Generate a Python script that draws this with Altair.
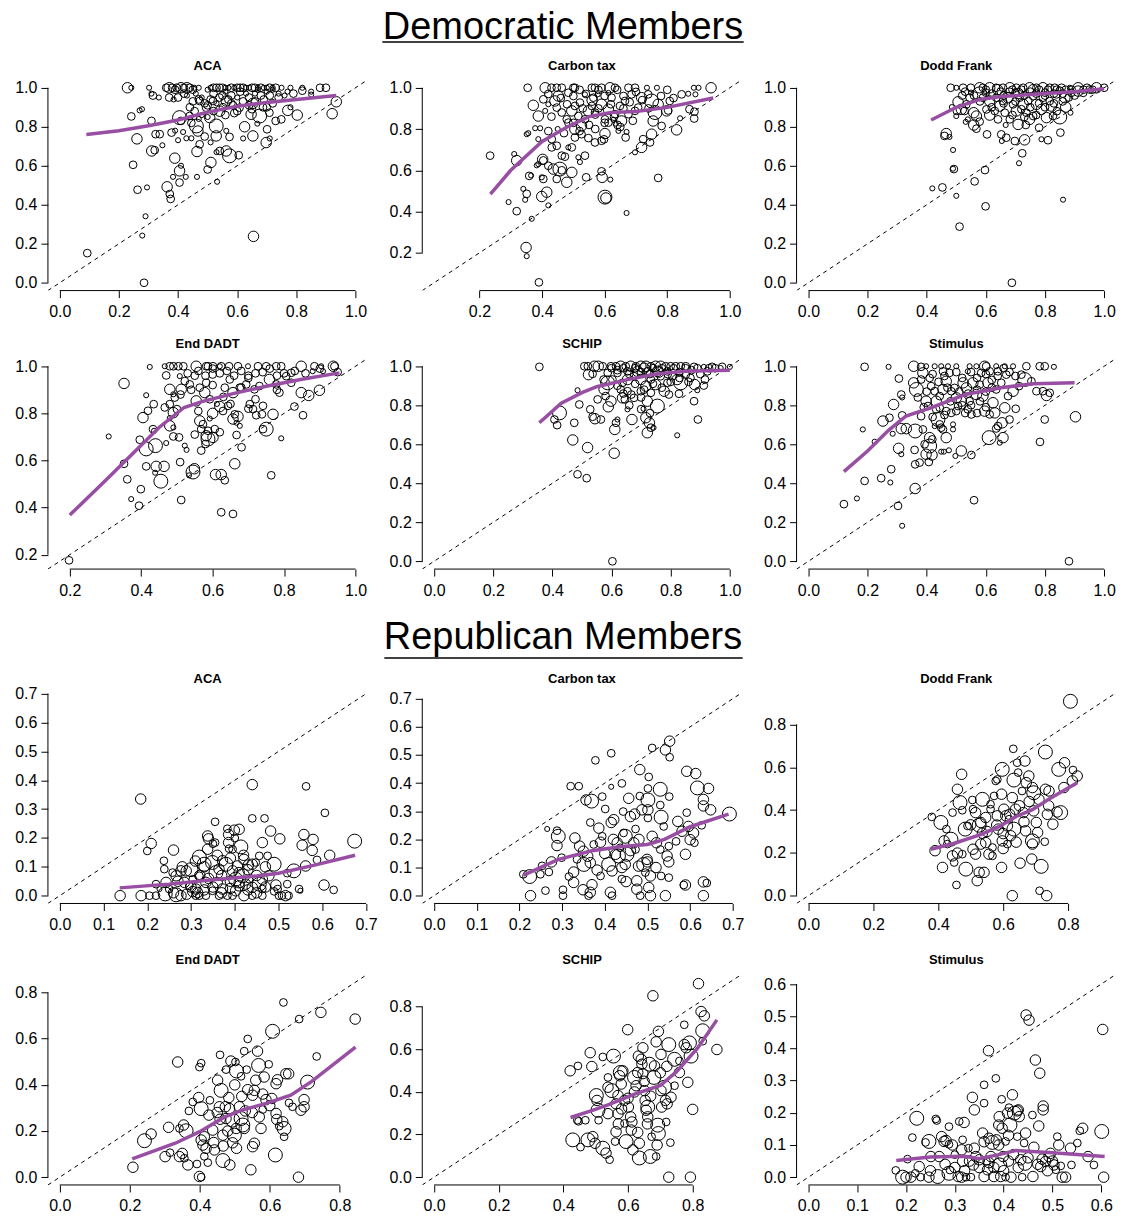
import altair as alt
import pandas as pd

# ---------------- data ----------------
# each point: (x, y, size class 1..4)
dem_aca_pts = [
(0.229,1.0,3),(0.242,1.0,1),(0.302,1.0,1),(0.36,1.0,2),(0.37,1.0,3),(0.38,1.0,2),(0.395,1.0,2),(0.41,1.0,3),(0.42,1.0,2),(0.43,1.0,3),(0.44,1.0,2),(0.455,1.0,1),(0.47,1.0,1),(0.51,1.0,1),(0.53,1.0,2),(0.54,1.0,2),(0.55,1.0,2),(0.57,1.0,1),(0.59,1.0,1),(0.6,1.0,2),(0.61,1.0,2),(0.62,1.0,2),(0.63,1.0,1),(0.65,1.0,2),(0.67,1.0,1),(0.69,1.0,1),(0.7,1.0,1),(0.72,1.0,1),(0.73,1.0,2),(0.75,1.0,1),(0.78,1.0,1),(0.82,1.0,1),(0.88,1.0,2),(0.9,1.0,2),
(0.31,0.97,1),(0.315,0.96,2),(0.335,0.95,1),(0.37,0.95,2),(0.385,0.94,1),(0.4,0.95,2),(0.43,0.96,1),(0.46,0.97,1),(0.47,0.94,2),(0.5,0.99,1),(0.52,0.97,2),(0.54,0.95,2),(0.56,0.98,1),(0.58,0.96,2),(0.61,0.98,2),(0.63,0.97,1),(0.64,0.95,2),(0.66,0.97,1),(0.68,0.96,2),(0.7,0.98,1),(0.74,0.97,1),(0.76,0.96,1),(0.82,0.985,2),(0.85,0.98,1),(0.85,0.965,1),
(0.242,0.853,2),(0.27,0.884,1),(0.278,0.89,1),(0.31,0.83,2),(0.405,0.847,4),(0.41,0.83,2),(0.439,0.855,2),(0.445,0.82,2),(0.456,0.88,2),(0.462,0.804,4),(0.473,0.932,2),(0.495,0.898,2),(0.507,0.847,3),(0.518,0.932,2),(0.529,0.804,4),(0.541,0.88,3),(0.552,0.9,2),(0.563,0.932,3),(0.586,0.91,2),(0.608,0.898,2),(0.625,0.8,3),(0.647,0.864,3),(0.653,0.92,3),(0.668,0.816,1),(0.676,0.855,4),(0.687,0.9,2),(0.709,0.872,2),(0.72,0.92,2),(0.73,0.83,2),(0.749,0.838,2),(0.771,0.884,3),(0.78,0.9,1),(0.803,0.86,3),(0.921,0.867,3),(0.935,0.928,3),(0.59,0.87,2),(0.5,0.85,1),(0.48,0.86,1),
(0.261,0.738,3),(0.324,0.762,2),(0.338,0.762,2),(0.347,0.705,1),(0.378,0.77,2),(0.39,0.78,1),(0.4,0.731,1),(0.417,0.773,1),(0.428,0.741,1),(0.445,0.741,1),(0.467,0.778,3),(0.473,0.71,2),(0.529,0.753,3),(0.563,0.779,1),(0.574,0.748,2),(0.62,0.74,1),(0.653,0.753,3),(0.698,0.719,3),(0.701,0.787,2),(0.71,0.74,1),(0.49,0.75,2),(0.51,0.72,1),
(0.248,0.605,2),(0.263,0.477,2),(0.295,0.489,1),(0.311,0.676,3),(0.321,0.68,2),(0.363,0.492,3),(0.372,0.455,2),(0.375,0.43,2),(0.389,0.639,3),(0.405,0.574,3),(0.41,0.6,1),(0.405,0.514,2),(0.383,0.543,1),(0.426,0.543,1),(0.464,0.543,1),(0.464,0.673,3),(0.5,0.581,2),(0.511,0.617,3),(0.532,0.518,1),(0.541,0.676,2),(0.563,0.676,3),(0.574,0.651,4),(0.605,0.654,2),(0.53,0.67,1),
(0.093,0.152,2),(0.279,0.242,1),(0.29,0.341,1),(0.285,0.0,2),(0.655,0.238,3),
(0.45,0.93,2),(0.48,0.95,1),(0.49,0.92,2),(0.51,0.94,2),(0.53,0.92,1),(0.55,0.96,2),(0.57,0.94,2),(0.58,0.92,2),(0.6,0.95,1),(0.62,0.93,2),(0.64,0.91,2),(0.66,0.93,2),(0.67,0.99,1),(0.69,0.94,2),(0.71,0.96,2),(0.72,0.99,1),(0.74,0.95,2),(0.77,0.98,1),(0.79,0.97,2),(0.52,1.0,2),(0.56,1.0,1),(0.58,1.0,2),(0.64,1.0,1),(0.66,1.0,2),(0.68,1.0,2),(0.71,1.0,2),(0.45,0.99,2),(0.39,0.99,2),(0.42,0.97,2),(0.5,0.91,2),(0.6,0.88,2),(0.65,0.89,2),(0.7,0.9,2),(0.56,0.86,2),(0.52,0.88,2),(0.47,0.84,1),(0.44,0.9,2)]
dem_aca_fit = [(0.09,0.76),(0.2,0.78),(0.3,0.805),(0.4,0.835),(0.5,0.875),(0.6,0.905),(0.7,0.925),(0.8,0.94),(0.935,0.96)]

dem_carbon_pts = [
(0.354,1.0,2),(0.41,1.0,3),(0.43,1.0,2),(0.447,1.0,2),(0.463,1.0,2),(0.5,1.0,2),(0.505,1.0,2),(0.559,1.0,2),(0.569,1.0,2),(0.59,1.0,2),(0.617,1.0,3),(0.633,1.0,2),(0.676,1.0,2),(0.697,1.0,2),(0.735,1.0,1),(0.767,1.0,1),(0.885,1.0,1),(0.9,1.0,1),(0.94,1.0,3),
(0.372,0.915,3),(0.388,0.863,3),(0.351,0.775,1),(0.356,0.78,1),(0.378,0.804,1),(0.394,0.804,1),(0.388,0.751,1),(0.42,0.79,2),(0.431,0.751,2),(0.234,0.671,2),(0.311,0.679,1),(0.319,0.647,3),(0.293,0.446,1),(0.319,0.402,2),(0.34,0.51,1),(0.351,0.486,2),(0.346,0.457,1),(0.359,0.573,2),(0.365,0.575,1),(0.367,0.365,1),(0.349,0.226,3),(0.351,0.184,1),(0.39,0.057,2),
(0.383,0.624,1),(0.388,0.63,1),(0.402,0.653,3),(0.404,0.648,2),(0.399,0.566,1),(0.404,0.558,2),(0.399,0.473,3),(0.415,0.494,3),(0.42,0.43,1),(0.42,0.622,2),(0.436,0.606,3),(0.447,0.558,2),(0.457,0.606,4),(0.463,0.6,2),(0.479,0.542,3),(0.495,0.59,3),(0.431,0.711,2),(0.447,0.719,2),(0.463,0.671,2),(0.473,0.666,2),(0.484,0.711,1),(0.495,0.711,2),(0.516,0.663,1),(0.521,0.64,1),(0.537,0.671,2),(0.541,0.566,2),
(0.505,0.759,2),(0.526,0.775,2),(0.548,0.756,2),(0.569,0.735,2),(0.59,0.743,2),(0.601,0.778,3),(0.598,0.75,2),(0.59,0.595,2),(0.592,0.566,3),(0.601,0.47,4),(0.604,0.466,3),(0.618,0.555,1),(0.67,0.393,1),(0.771,0.563,2),(0.697,0.687,1),(0.718,0.711,3),(0.723,0.751,2),(0.75,0.775,3),(0.745,0.735,2),(0.667,0.759,2),(0.67,0.786,1),(0.635,0.826,1),(0.641,0.82,2),
(0.782,0.815,2),(0.83,0.796,3),(0.841,0.852,1),(0.871,0.896,2),(0.887,0.884,2),(0.886,0.851,2),(0.755,0.839,3),(0.761,0.88,4),(0.771,0.92,3),(0.798,0.888,3),(0.803,0.89,2),(0.808,0.936,2),(0.846,0.968,2),(0.867,0.971,1),(0.89,0.968,1),(0.697,0.888,2),(0.707,0.904,2),(0.718,0.952,3),(0.739,0.968,2),(0.75,0.936,4),
(0.441,0.936,3),(0.452,0.96,3),(0.447,0.904,2),(0.463,0.88,2),(0.479,0.847,2),(0.484,0.831,2),(0.495,0.888,3),(0.505,0.912,2),(0.521,0.928,2),(0.516,0.863,2),(0.526,0.815,3),(0.505,0.799,3),(0.537,0.847,2),(0.548,0.888,3),(0.559,0.912,2),(0.564,0.952,2),(0.569,0.88,2),(0.578,0.968,1),(0.59,0.92,3),(0.601,0.847,2),(0.612,0.896,3),(0.622,0.952,2),(0.633,0.872,2),(0.649,0.912,2),(0.654,0.839,3),(0.665,0.936,2),(0.676,0.872,2),(0.686,0.968,2),(0.612,0.975,1),(0.537,0.968,1),(0.484,0.976,2),(0.42,0.92,1),(0.41,0.888,1),(0.404,0.944,2),(0.612,0.831,2),(0.628,0.845,1),(0.644,0.791,1),
(0.5,0.96,2),(0.52,0.99,2),(0.54,0.97,2),(0.56,0.94,3),(0.58,0.99,2),(0.6,0.96,2),(0.62,0.92,2),(0.64,0.99,2),(0.66,0.96,2),(0.68,0.93,2),(0.7,0.98,2),(0.72,0.94,2),(0.46,0.95,2),(0.48,0.92,2),(0.53,0.9,2),(0.57,0.87,2),(0.6,0.83,2),(0.63,0.86,2),(0.66,0.9,2),(0.69,0.84,2),(0.55,0.82,2),(0.52,0.79,2),(0.5,0.83,2),(0.47,0.78,2),(0.45,0.8,1),(0.43,0.86,2),(0.57,0.8,2),(0.65,0.81,2),(0.78,0.96,2),(0.8,0.99,2),(0.82,0.95,2),(0.74,0.9,2),(0.58,0.9,2),(0.42,0.97,2)]
dem_carbon_fit = [(0.235,0.485),(0.3,0.6),(0.4,0.74),(0.48,0.81),(0.55,0.86),(0.62,0.88),(0.7,0.885),(0.8,0.905),(0.947,0.95)]

dem_dodd_pts = [
(0.481,1.0,2),(0.5,1.0,1),(0.523,1.0,2),(0.549,1.0,2),(0.579,1.0,3),(0.59,1.0,2),(0.613,1.0,3),(0.635,1.0,2),(0.658,1.0,2),(0.681,1.0,3),(0.703,1.0,2),(0.726,1.0,2),(0.748,1.0,3),(0.771,1.0,2),(0.793,1.0,3),(0.816,1.0,2),(0.833,1.0,2),(0.856,1.0,2),(0.884,1.0,1),(0.912,1.0,3),(0.942,1.0,2),(0.974,1.0,3),(1.0,1.0,2),
(0.579,0.969,4),(0.506,0.928,3),(0.517,0.889,3),(0.528,0.881,2),(0.502,0.881,2),(0.5,0.855,1),(0.539,0.838,1),(0.559,0.872,3),(0.568,0.855,3),(0.579,0.826,2),(0.559,0.809,3),(0.568,0.79,2),(0.46,0.753,2),(0.477,0.748,1),(0.466,0.765,3),(0.489,0.681,1),(0.604,0.761,2),(0.613,0.86,3),
(0.652,0.761,2),(0.654,0.727,1),(0.669,0.744,2),(0.667,0.809,1),(0.698,0.727,2),(0.709,0.812,3),(0.731,0.733,3),(0.723,0.664,2),(0.712,0.613,1),(0.735,0.809,2),(0.748,0.838,3),(0.76,0.855,2),(0.78,0.795,2),(0.788,0.736,1),(0.81,0.731,2),(0.805,0.847,3),(0.827,0.855,2),(0.85,0.85,4),(0.87,0.901,3),(0.852,0.77,2),(0.886,0.872,1),
(0.419,0.484,1),(0.453,0.489,2),(0.5,0.446,1),(0.492,0.583,2),(0.489,0.585,1),(0.562,0.52,2),(0.597,0.578,2),(0.511,0.288,2),(0.599,0.392,2),(0.688,0.0,2),(0.861,0.426,1),(0.532,0.825,1),(0.485,0.901,1),
(0.59,0.949,2),(0.613,0.932,3),(0.635,0.949,2),(0.647,0.906,3),(0.658,0.932,2),(0.675,0.949,3),(0.692,0.915,2),(0.703,0.881,3),(0.714,0.949,2),(0.726,0.915,3),(0.743,0.932,2),(0.76,0.957,2),(0.771,0.915,3),(0.788,0.889,3),(0.793,0.949,2),(0.816,0.932,2),(0.822,0.906,3),(0.839,0.966,2),(0.867,0.949,3),(0.889,0.974,2),(0.912,0.983,3),(0.929,0.974,2),(0.951,0.991,2),(0.545,0.949,2),(0.534,0.915,2),(0.602,0.889,2),(0.63,0.881,2),(0.664,0.872,2),(0.737,0.872,2),(0.681,0.838,2),(0.641,0.838,2),
(0.6,0.975,2),(0.65,0.98,2),(0.7,0.975,2),(0.75,0.98,2),(0.8,0.975,2),(0.85,0.985,2),(0.55,0.975,1),(0.52,0.96,2),
(0.6,0.99,2),(0.62,0.97,2),(0.64,0.99,3),(0.66,0.96,2),(0.68,0.98,2),(0.69,0.99,2),(0.71,0.97,3),(0.72,0.99,2),(0.73,0.96,2),(0.76,0.99,3),(0.77,0.97,2),(0.78,0.99,2),(0.8,0.96,2),(0.81,0.99,2),(0.83,0.97,2),(0.84,0.99,2),(0.86,0.97,2),(0.87,0.99,2),(0.89,0.99,2),(0.9,0.96,2),(0.93,0.99,2),(0.96,0.99,2),(0.62,0.9,2),(0.66,0.92,2),(0.7,0.93,2),(0.72,0.89,2),(0.75,0.9,2),(0.78,0.92,2),(0.8,0.9,2),(0.83,0.92,2),(0.86,0.93,2),(0.88,0.95,2),(0.69,0.86,2),(0.73,0.85,2),(0.77,0.86,2),(0.84,0.88,2),(0.56,0.96,2),(0.58,0.93,2),(0.53,0.98,2)]
dem_dodd_fit = [(0.415,0.835),(0.5,0.9),(0.58,0.94),(0.65,0.955),(0.8,0.97),(0.9,0.98),(1.0,0.995)]

dem_dadt_pts = [
(0.424,0.997,1),(0.466,1.0,1),(0.48,1.0,2),(0.49,1.0,2),(0.504,1.0,2),(0.518,1.0,2),(0.554,1.0,3),(0.582,1.0,2),(0.587,1.0,2),(0.601,1.0,2),(0.62,1.0,1),(0.624,1.0,2),(0.646,1.0,2),(0.671,1.0,2),(0.699,1.0,1),(0.727,1.0,2),(0.75,1.0,2),(0.778,1.0,2),(0.792,1.0,2),(0.848,1.0,3),(0.885,1.0,2),(0.904,1.0,1),(0.938,1.0,3),(0.941,1.0,2),
(0.352,0.927,3),(0.309,0.702,1),(0.414,0.877,1),(0.419,0.811,2),(0.435,0.839,2),(0.405,0.782,3),(0.396,0.688,2),(0.433,0.733,2),(0.436,0.726,1),(0.414,0.649,4),(0.44,0.663,4),(0.352,0.586,2),(0.361,0.52,2),(0.372,0.436,1),(0.399,0.478,2),(0.394,0.408,2),(0.414,0.575,2),(0.442,0.575,3),(0.464,0.575,3),(0.439,0.548,1),(0.455,0.512,4),(0.512,0.432,2),(0.534,0.537,1),(0.545,0.551,4),(0.549,0.565,3),(0.568,0.642,2),
(0.48,0.747,3),(0.49,0.74,1),(0.509,0.593,2),(0.522,0.663,1),(0.527,0.645,1),(0.506,0.698,2),(0.49,0.702,2),(0.47,0.674,1),(0.466,0.825,2),(0.48,0.839,2),(0.49,0.803,3),(0.5,0.818,2),(0.48,0.78,1),(0.48,0.902,3),(0.49,0.881,1),(0.494,0.867,2),(0.512,0.902,3),(0.522,0.937,2),(0.47,0.961,2),(0.508,0.958,1),
(0.536,0.923,2),(0.564,0.909,2),(0.578,0.888,3),(0.554,0.853,3),(0.592,0.86,2),(0.582,0.93,2),(0.564,0.768,3),(0.573,0.754,2),(0.568,0.733,2),(0.582,0.705,3),(0.587,0.691,4),(0.601,0.698,3),(0.606,0.733,2),(0.587,0.726,2),(0.592,0.778,1),(0.608,0.54,3),(0.624,0.54,3),(0.634,0.516,2),(0.624,0.38,2),(0.657,0.373,2),(0.662,0.586,3),(0.667,0.708,2),(0.681,0.656,2),
(0.62,0.829,3),(0.629,0.81,2),(0.612,0.84,1),(0.643,0.832,2),(0.657,0.776,3),(0.662,0.796,2),(0.671,0.787,3),(0.676,0.747,1),(0.667,0.76,1),(0.634,0.909,2),(0.648,0.944,2),(0.657,0.888,3),(0.676,0.909,2),(0.694,0.923,2),(0.704,0.839,2),(0.713,0.818,2),(0.722,0.792,2),(0.738,0.796,2),(0.741,0.832,2),(0.75,0.733,4),(0.741,0.733,2),(0.764,0.537,2),(0.769,0.796,3),(0.792,0.694,1),
(0.759,0.944,3),(0.778,0.923,2),(0.787,0.888,2),(0.806,0.958,2),(0.82,0.972,2),(0.829,0.829,2),(0.853,0.792,2),(0.848,0.888,3),(0.869,0.876,3),(0.899,0.898,3),(0.88,0.979,1),(0.909,0.979,1),(0.717,0.902,2),(0.731,0.916,2),(0.198,0.176,2),
(0.55,0.96,2),(0.6,0.965,2),(0.7,0.96,2),(0.74,0.975,2),(0.8,0.97,2),(0.95,0.975,2),
(0.53,0.97,2),(0.56,0.98,2),(0.58,0.96,2),(0.6,0.99,2),(0.62,0.97,2),(0.64,0.98,2),(0.66,0.96,2),(0.68,0.98,2),(0.7,0.95,2),(0.72,0.97,2),(0.76,0.99,2),(0.78,0.96,2),(0.83,0.98,2),(0.86,0.97,2),(0.9,0.99,2),(0.54,0.9,2),(0.6,0.92,2),(0.63,0.87,2),(0.68,0.91,2),(0.72,0.86,2),(0.78,0.9,2),(0.82,0.93,2),(0.56,0.81,2),(0.6,0.8,3),(0.65,0.84,2),(0.7,0.82,2),(0.58,0.67,2),(0.62,0.72,2),(0.55,0.71,2),(0.51,0.88,2)]
dem_dadt_fit = [(0.2,0.368),(0.3,0.515),(0.4,0.665),(0.45,0.74),(0.52,0.825),(0.57,0.85),(0.66,0.885),(0.75,0.915),(0.85,0.945),(0.955,0.972)]

dem_schip_pts = [
(0.356,0.997,2),(0.508,1.0,2),(0.52,1.0,2),(0.542,1.0,3),(0.555,1.0,3),(0.57,1.0,2),(0.598,1.0,2),(0.615,1.0,2),(0.631,1.0,3),(0.648,1.0,2),(0.665,1.0,3),(0.682,1.0,2),(0.699,1.0,3),(0.716,1.0,3),(0.733,1.0,2),(0.749,1.0,3),(0.766,1.0,3),(0.783,1.0,2),(0.8,1.0,2),(0.817,1.0,2),(0.834,1.0,2),(0.851,1.0,2),(0.879,0.997,2),(0.912,0.997,1),(0.94,0.997,2),(0.974,0.997,2),(1.0,0.997,1),
(0.522,0.957,3),(0.536,0.961,2),(0.573,0.932,2),(0.587,0.915,4),(0.575,0.881,3),(0.485,0.877,1),(0.491,0.804,2),(0.424,0.761,4),(0.407,0.727,2),(0.416,0.698,2),(0.474,0.71,2),(0.469,0.622,3),(0.519,0.583,3),(0.528,0.779,2),(0.536,0.741,2),(0.544,0.731,3),(0.564,0.727,2),(0.553,0.83,2),(0.58,0.847,2),(0.598,0.821,3),(0.589,0.792,3),
(0.485,0.446,2),(0.516,0.426,2),(0.609,0.554,3),(0.615,0.71,2),(0.611,0.676,3),(0.62,0.727,1),(0.603,0.0,2),(0.654,0.779,1),(0.637,0.838,3),(0.645,0.83,2),(0.631,0.881,2),(0.669,0.727,3),(0.667,0.855,2),(0.721,0.821,3),(0.716,0.736,3),(0.728,0.71,3),(0.733,0.685,2),(0.721,0.659,3),(0.708,0.782,1),(0.755,0.796,4),(0.742,0.685,1),(0.822,0.646,1),
(0.892,0.727,2),(0.879,0.821,2),(0.881,0.906,3),(0.89,0.877,1),(0.912,0.901,2),(0.916,0.932,2),(0.828,0.859,2),(0.794,0.855,2),
(0.62,0.966,2),(0.654,0.932,3),(0.676,0.949,2),(0.699,0.932,3),(0.716,0.898,3),(0.733,0.932,2),(0.749,0.906,3),(0.766,0.949,2),(0.778,0.872,3),(0.789,0.915,2),(0.806,0.949,2),(0.822,0.932,3),(0.834,0.915,4),(0.851,0.957,2),(0.867,0.94,2),(0.699,0.872,2),(0.676,0.838,2),(0.733,0.864,2),(0.654,0.872,2),(0.637,0.915,2),(0.603,0.932,2),(0.587,0.966,2),(0.789,0.974,2),(0.755,0.974,3),(0.721,0.974,2),(0.688,0.974,3),(0.654,0.974,2),(0.924,0.974,2),(0.969,0.991,1),
(0.6,0.99,2),(0.62,0.98,2),(0.64,0.99,2),(0.66,0.96,2),(0.68,0.99,2),(0.7,0.97,2),(0.71,0.99,3),(0.73,0.96,2),(0.74,0.99,2),(0.76,0.97,3),(0.77,0.99,2),(0.79,0.96,2),(0.81,0.99,2),(0.83,0.97,2),(0.85,0.99,2),(0.87,0.98,2),(0.89,0.99,2),(0.9,0.96,2),(0.93,0.99,2),(0.95,0.99,2),(0.68,0.91,2),(0.71,0.88,2),(0.74,0.91,2),(0.77,0.89,2),(0.8,0.92,2),(0.83,0.94,2),(0.86,0.92,2),(0.7,0.84,2),(0.64,0.86,2),(0.62,0.9,2),(0.66,0.8,2),(0.7,0.78,2),(0.73,0.76,2)]
dem_schip_fit = [(0.356,0.71),(0.43,0.81),(0.5,0.865),(0.55,0.895),(0.65,0.93),(0.75,0.96),(0.85,0.975),(1.0,0.98)]

dem_stim_pts = [
(0.19,0.997,2),(0.271,0.997,1),(0.356,1.0,3),(0.381,0.997,2),(0.398,1.0,1),(0.427,1.0,1),(0.449,1.0,1),(0.472,1.0,1),(0.5,1.0,1),(0.545,1.0,1),(0.568,1.0,1),(0.596,1.0,3),(0.601,1.0,2),(0.635,1.0,1),(0.664,1.0,1),(0.692,1.0,1),(0.737,1.0,2),(0.782,1.0,2),(0.799,1.0,2),(0.83,0.997,1),
(0.306,0.937,2),(0.12,0.293,2),(0.164,0.322,1),(0.19,0.412,2),(0.246,0.426,2),(0.277,0.404,1),(0.28,0.472,2),(0.184,0.676,1),(0.224,0.613,1),(0.252,0.719,3),(0.274,0.736,2),(0.285,0.654,1),(0.288,0.804,3),(0.314,0.855,2),(0.317,0.84,1),(0.317,0.748,2),(0.314,0.68,3),(0.331,0.68,3),(0.305,0.579,3),(0.314,0.549,1),(0.303,0.284,2),(0.317,0.182,1),
(0.361,0.373,3),(0.361,0.497,2),(0.359,0.571,2),(0.361,0.668,4),(0.376,0.506,2),(0.387,0.676,2),(0.381,0.744,2),(0.393,0.6,2),(0.398,0.549,3),(0.41,0.591,4),(0.418,0.545,3),(0.407,0.509,2),(0.41,0.634,3),(0.419,0.625,2),(0.427,0.693,1),(0.438,0.727,4),(0.444,0.702,2),(0.449,0.685,2),(0.455,0.676,2),(0.466,0.634,3),(0.449,0.562,1),(0.458,0.562,1),(0.475,0.569,1),(0.497,0.54,1),(0.517,0.566,3),(0.489,0.702,1),(0.489,0.676,1),(0.551,0.545,2),(0.56,0.313,2),
(0.611,0.634,4),(0.658,0.634,3),(0.647,0.608,1),(0.635,0.681,2),(0.641,0.693,2),(0.655,0.71,3),(0.68,0.727,2),(0.783,0.612,2),(0.799,0.727,2),(0.903,0.741,3),(0.881,0.0,2),(0.701,0.782,2),(0.664,0.787,3),(0.805,0.85,3),(0.816,0.864,2),(0.793,0.872,2),(0.771,0.872,2),(0.754,0.923,2),(0.731,0.932,4),(0.712,0.898,2),(0.72,0.957,2),
(0.356,0.915,3),(0.365,0.881,4),(0.381,0.932,2),(0.387,0.966,3),(0.41,0.94,2),(0.415,0.898,2),(0.427,0.872,2),(0.432,0.821,3),(0.398,0.821,3),(0.404,0.796,2),(0.444,0.847,2),(0.455,0.881,3),(0.466,0.923,3),(0.477,0.966,2),(0.483,0.872,2),(0.494,0.889,2),(0.5,0.838,3),(0.506,0.796,2),(0.517,0.821,3),(0.523,0.915,3),(0.534,0.889,3),(0.539,0.779,2),(0.551,0.753,2),(0.545,0.821,2),(0.556,0.915,3),(0.568,0.855,3),(0.579,0.906,2),(0.584,0.966,2),(0.59,0.847,3),(0.607,0.915,3),(0.596,0.77,3),(0.624,0.813,3),(0.613,0.753,2),(0.63,0.761,3),(0.635,0.881,2),(0.652,0.915,2),(0.669,0.957,2),(0.675,0.847,2),(0.692,0.872,3),(0.641,0.974,2),(0.613,0.974,2),(0.539,0.974,1),(0.455,0.974,2),(0.444,0.787,2),(0.466,0.77,2),(0.483,0.761,2),(0.432,0.779,2),
(0.42,0.96,2),(0.44,0.92,2),(0.46,0.95,2),(0.5,0.97,2),(0.52,0.94,2),(0.55,0.97,2),(0.57,0.94,2),(0.6,0.96,2),(0.62,0.93,2),(0.64,0.95,2),(0.66,0.99,2),(0.68,0.97,2),(0.7,0.95,2),(0.47,0.89,2),(0.51,0.87,2),(0.54,0.86,2),(0.57,0.88,2),(0.6,0.87,2),(0.62,0.89,2),(0.48,0.82,2),(0.52,0.8,2),(0.55,0.8,2),(0.58,0.82,2),(0.46,0.75,2),(0.5,0.77,2),(0.53,0.76,2),(0.42,0.74,2),(0.4,0.87,2),(0.37,0.84,2),(0.39,0.79,2),(0.57,0.76,2),(0.6,0.79,2)]
dem_stim_fit = [(0.12,0.46),(0.2,0.565),(0.27,0.67),(0.33,0.745),(0.42,0.79),(0.53,0.855),(0.65,0.89),(0.76,0.91),(0.9,0.915)]

rep_aca_pts = [
(0.138,0.0,3),(0.186,0.0,3),(0.205,0.0,2),(0.22,0.0,2),(0.241,0.006,4),(0.266,0.003,4),(0.277,0.0,3),(0.311,0.0,2),(0.319,0.0,2),(0.334,0.0,2),(0.364,0.0,2),(0.383,0.0,2),(0.395,0.0,2),(0.421,0.0,3),(0.44,0.0,2),(0.463,0.0,2),(0.501,0.0,2),(0.508,0.0,2),(0.516,0.0,3),(0.523,0.0,2),
(0.185,0.335,3),(0.209,0.181,3),(0.2,0.155,2),(0.238,0.121,2),(0.239,0.092,2),(0.22,0.04,2),(0.228,0.023,1),(0.26,0.158,3),(0.258,0.08,2),(0.266,0.069,3),(0.277,0.086,3),(0.289,0.086,3),(0.3,0.09,4),(0.285,0.046,3),(0.296,0.034,2),(0.304,0.014,3),(0.311,0.023,3),(0.315,0.011,3),(0.319,0.134,4),(0.33,0.109,4),
(0.338,0.207,3),(0.34,0.197,3),(0.338,0.161,3),(0.355,0.256,2),(0.355,0.184,2),(0.349,0.115,4),(0.357,0.08,4),(0.364,0.092,3),(0.36,0.046,3),(0.372,0.023,3),(0.383,0.232,2),(0.399,0.227,3),(0.386,0.212,3),(0.386,0.184,3),(0.387,0.163,2),(0.395,0.161,2),(0.372,0.121,3),(0.38,0.109,4),(0.395,0.086,3),(0.406,0.103,3),(0.414,0.169,4),
(0.402,0.057,4),(0.418,0.069,4),(0.425,0.04,3),(0.433,0.057,2),(0.421,0.126,3),(0.431,0.106,3),(0.44,0.109,3),(0.448,0.115,2),(0.44,0.385,3),(0.44,0.268,2),(0.468,0.268,2),(0.456,0.138,2),(0.463,0.184,3),(0.475,0.138,2),(0.482,0.224,3),(0.503,0.197,3),(0.49,0.109,4),(0.494,0.037,3),(0.498,0.023,2),(0.456,0.04,4),(0.463,0.023,2),
(0.52,0.078,2),(0.535,0.086,4),(0.52,0.04,2),(0.547,0.023,2),(0.55,0.017,1),(0.554,0.175,3),(0.558,0.212,3),(0.562,0.103,3),(0.563,0.379,2),(0.577,0.157,3),(0.579,0.195,3),(0.588,0.124,2),(0.606,0.287,2),(0.604,0.037,3),(0.617,0.14,3),(0.626,0.02,2),(0.674,0.189,4),
(0.243,0.046,3),(0.25,0.023,2),(0.304,0.057,2),(0.319,0.069,2),(0.334,0.046,3),(0.349,0.017,2),(0.402,0.017,3),(0.41,0.034,3),(0.44,0.029,3),(0.463,0.057,3),(0.478,0.069,3),
(0.26,0.01,3),(0.29,0.005,3),(0.3,0.03,3),(0.33,0.02,3),(0.35,0.03,3),(0.37,0.01,3),(0.39,0.025,3),(0.41,0.045,3),(0.43,0.02,3),(0.45,0.01,3),(0.47,0.03,3),(0.49,0.015,2),(0.27,0.05,3),(0.32,0.07,3),(0.34,0.06,3),(0.37,0.07,3),(0.39,0.05,3),(0.41,0.08,3),(0.43,0.09,3),(0.45,0.07,3),(0.28,0.1,3),(0.31,0.12,3),(0.36,0.14,3),(0.39,0.13,3),(0.42,0.14,3),(0.35,0.18,2),(0.4,0.2,2),(0.41,0.23,3),(0.33,0.1,3),(0.47,0.1,3)]
rep_aca_fit = [(0.137,0.027),(0.25,0.04),(0.35,0.055),(0.45,0.068),(0.5,0.078),(0.58,0.105),(0.675,0.14)]

rep_carbon_pts = [
(0.209,0.076,2),(0.224,0.068,4),(0.226,0.0,3),(0.253,0.106,2),(0.249,0.076,2),(0.261,0.018,2),(0.269,0.084,2),(0.265,0.237,1),(0.275,0.12,3),(0.288,0.231,2),(0.291,0.211,4),(0.288,0.178,3),(0.299,0.135,2),(0.302,0.021,2),(0.302,0.0,2),
(0.32,0.389,2),(0.339,0.389,2),(0.316,0.068,2),(0.327,0.084,3),(0.327,0.047,3),(0.33,0.205,3),(0.341,0.176,3),(0.35,0.158,3),(0.335,0.129,2),(0.349,0.021,3),(0.362,0.0,2),(0.366,0.012,3),(0.37,0.039,3),(0.356,0.34,3),(0.369,0.336,4),(0.378,0.481,2),(0.351,0.111,4),(0.366,0.117,3),(0.374,0.182,2),(0.366,0.26,2),(0.382,0.091,3),(0.39,0.07,2),(0.386,0.24,3),(0.394,0.211,2),(0.394,0.352,2),(0.401,0.308,2),
(0.415,0.506,2),(0.415,0.387,1),(0.409,0.111,4),(0.417,0.088,3),(0.413,0.012,3),(0.417,0.0,2),(0.415,0.26,3),(0.421,0.27,3),(0.429,0.188,3),(0.425,0.147,3),(0.432,0.141,4),(0.436,0.17,2),(0.44,0.399,2),(0.443,0.299,2),(0.448,0.211,4),(0.444,0.223,2),(0.452,0.147,4),(0.448,0.111,3),(0.44,0.059,2),(0.46,0.281,3),(0.456,0.346,3),
(0.472,0.237,2),(0.468,0.188,3),(0.472,0.164,2),(0.479,0.105,3),(0.475,0.053,3),(0.475,0.023,3),(0.483,0.0,2),(0.482,0.448,3),(0.482,0.354,2),(0.487,0.305,3),(0.491,0.111,4),(0.499,0.129,3),(0.495,0.082,2),(0.501,0.34,4),(0.501,0.305,3),(0.501,0.276,2),(0.501,0.381,2),(0.503,0.422,2),(0.511,0.525,2),(0.507,0.0,3),(0.503,0.029,3),(0.507,0.07,3),
(0.511,0.211,3),(0.521,0.188,3),(0.53,0.164,2),(0.53,0.378,4),(0.53,0.322,2),(0.532,0.279,4),(0.538,0.246,2),(0.542,0.518,3),(0.552,0.549,3),(0.552,0.492,2),(0.551,0.352,2),(0.546,0.141,3),(0.55,0.176,2),(0.532,0.07,2),(0.542,0.0,3),(0.55,0.064,2),
(0.567,0.193,2),(0.571,0.264,3),(0.589,0.147,3),(0.581,0.229,3),(0.596,0.246,3),(0.6,0.199,3),(0.592,0.295,2),(0.592,0.442,3),(0.613,0.434,3),(0.608,0.223,3),(0.61,0.188,2),(0.585,0.038,2),(0.589,0.038,3),(0.617,0.383,4),(0.643,0.381,3),(0.631,0.342,3),(0.631,0.319,3),(0.648,0.305,3),(0.627,0.25,2),(0.631,0.049,3),(0.639,0.045,2),(0.631,0.0,3),(0.692,0.29,4),
(0.4,0.15,3),(0.42,0.2,3),(0.44,0.1,3),(0.46,0.16,3),(0.48,0.2,3),(0.5,0.12,3),(0.52,0.1,3),(0.39,0.19,3),(0.36,0.14,3),(0.45,0.05,3),(0.55,0.12,3),(0.47,0.29,3)]
rep_carbon_fit = [(0.21,0.073),(0.29,0.128),(0.37,0.16),(0.44,0.175),(0.5,0.182),(0.54,0.2),(0.6,0.245),(0.69,0.29)]

rep_dodd_pts = [
(0.38,0.368,2),(0.39,0.21,3),(0.408,0.342,4),(0.413,0.132,3),(0.418,0.256,3),(0.425,0.311,2),(0.439,0.264,4),(0.444,0.186,3),(0.449,0.155,2),(0.456,0.05,2),(0.459,0.497,3),(0.467,0.435,4),(0.474,0.399,2),(0.472,0.567,3),(0.459,0.199,3),(0.474,0.194,2),(0.485,0.124,4),(0.483,0.311,4),
(0.49,0.326,2),(0.5,0.331,3),(0.505,0.447,2),(0.507,0.404,2),(0.507,0.217,3),(0.515,0.194,3),(0.52,0.07,3),(0.526,0.109,3),(0.526,0.329,4),(0.531,0.342,3),(0.536,0.292,3),(0.536,0.45,4),(0.531,0.241,3),(0.546,0.248,3),(0.541,0.109,3),(0.556,0.194,3),(0.567,0.225,2),(0.567,0.186,2),
(0.577,0.536,2),(0.582,0.543,2),(0.561,0.427,2),(0.561,0.404,2),(0.585,0.311,3),(0.595,0.132,3),(0.597,0.256,3),(0.597,0.59,4),(0.602,0.404,3),(0.608,0.373,3),(0.613,0.241,2),(0.613,0.326,3),(0.623,0.28,3),(0.618,0.357,2),(0.631,0.686,2),(0.633,0.54,4),(0.628,0.458,3),(0.633,0.311,4),(0.638,0.404,3),(0.643,0.621,2),(0.667,0.629,3),(0.646,0.575,2),(0.652,0.152,3),(0.628,0.0,3),
(0.658,0.489,2),(0.662,0.388,3),(0.664,0.345,3),(0.669,0.303,3),(0.671,0.528,3),(0.679,0.559,3),(0.69,0.505,3),(0.694,0.481,4),(0.69,0.256,4),(0.688,0.171,3),(0.69,0.241,3),(0.694,0.396,3),(0.702,0.342,3),(0.706,0.295,3),(0.712,0.023,2),(0.717,0.137,4),(0.728,0.252,2),
(0.73,0.671,4),(0.73,0.497,3),(0.741,0.489,3),(0.736,0.38,3),(0.753,0.334,3),(0.734,0.0,3),(0.771,0.59,4),(0.789,0.621,3),(0.777,0.388,4),(0.766,0.391,3),(0.787,0.505,3),(0.815,0.587,2),(0.828,0.559,3),(0.813,0.536,3),(0.807,0.908,4),
(0.444,0.388,2),(0.428,0.241,2),(0.582,0.373,3),(0.595,0.474,3),(0.546,0.365,3),(0.515,0.388,3),(0.572,0.466,2),
(0.55,0.3,3),(0.58,0.33,3),(0.6,0.29,3),(0.62,0.38,3),(0.65,0.42,3),(0.68,0.44,3),(0.71,0.45,3),(0.74,0.42,3),(0.6,0.22,3),(0.64,0.25,3)]
rep_dodd_fit = [(0.377,0.217),(0.45,0.245),(0.53,0.285),(0.59,0.325),(0.64,0.37),(0.69,0.402),(0.74,0.45),(0.828,0.528)]

rep_dadt_pts = [
(0.209,0.043,3),(0.242,0.158,4),(0.261,0.187,3),(0.301,0.089,3),(0.311,0.216,3),(0.315,0.106,2),(0.337,0.499,3),(0.342,0.089,3),(0.342,0.211,2),(0.35,0.103,3),(0.356,0.082,2),(0.361,0.201,4),(0.354,0.226,3),(0.366,0.053,3),(0.369,0.287,2),(0.38,0.326,2),(0.392,0.057,2),
(0.399,0.003,3),(0.404,0.0,2),(0.399,0.477,2),(0.404,0.494,2),(0.397,0.345,3),(0.404,0.297,4),(0.404,0.161,3),(0.413,0.175,3),(0.409,0.139,3),(0.418,0.125,3),(0.423,0.063,2),(0.429,0.333,2),(0.426,0.269,3),(0.437,0.204,3),(0.442,0.118,3),(0.451,0.42,3),(0.458,0.53,2),(0.461,0.376,4),(0.456,0.305,3),(0.458,0.251,3),
(0.466,0.182,3),(0.467,0.135,3),(0.466,0.072,4),(0.475,0.466,2),(0.473,0.305,3),(0.483,0.345,3),(0.485,0.297,3),(0.486,0.053,3),(0.494,0.247,4),(0.499,0.182,4),(0.504,0.211,3),(0.494,0.149,3),(0.489,0.503,3),(0.502,0.499,2),(0.505,0.46,4),(0.505,0.125,3),
(0.513,0.305,3),(0.518,0.254,4),(0.523,0.226,4),(0.527,0.211,3),(0.53,0.287,3),(0.527,0.546,2),(0.537,0.599,2),(0.534,0.466,2),(0.537,0.379,3),(0.546,0.032,3),(0.551,0.132,3),(0.556,0.147,3),(0.551,0.355,3),(0.556,0.376,3),(0.565,0.546,3),(0.568,0.484,4),(0.57,0.261,3),(0.575,0.211,3),(0.584,0.434,3),(0.58,0.293,2),
(0.589,0.336,3),(0.597,0.489,2),(0.606,0.341,3),(0.608,0.632,4),(0.616,0.096,4),(0.618,0.276,3),(0.618,0.405,3),(0.622,0.422,3),(0.627,0.221,2),(0.637,0.24,3),(0.641,0.211,4),(0.641,0.175,2),(0.646,0.448,3),(0.654,0.448,3),(0.639,0.757,2),(0.655,0.322,2),(0.665,0.305,2),
(0.684,0.685,2),(0.682,0.0,3),(0.689,0.29,3),(0.698,0.336,3),(0.698,0.305,3),(0.708,0.412,4),(0.734,0.523,2),(0.746,0.714,3),(0.844,0.685,3),(0.413,0.09,2),(0.518,0.437,2),(0.475,0.254,3),
(0.45,0.28,3),(0.48,0.2,3),(0.52,0.35,3),(0.55,0.28,3),(0.58,0.36,3),(0.6,0.31,3),(0.62,0.25,3),(0.5,0.4,3),(0.44,0.15,3),(0.56,0.42,3)]
rep_dadt_fit = [(0.207,0.079),(0.33,0.147),(0.4,0.197),(0.47,0.26),(0.52,0.29),(0.59,0.32),(0.66,0.355),(0.72,0.415),(0.845,0.563)]

rep_schip_pts = [
(0.421,0.499,3),(0.445,0.522,2),(0.429,0.175,4),(0.443,0.267,2),(0.447,0.262,2),(0.453,0.141,2),(0.468,0.267,2),(0.483,0.584,3),(0.488,0.519,3),(0.476,0.175,4),(0.491,0.19,3),(0.498,0.159,3),(0.502,0.383,4),(0.504,0.36,3),(0.507,0.314,4),(0.509,0.267,2),(0.522,0.564,2),(0.522,0.136,4),(0.532,0.113,3),
(0.538,0.298,3),(0.543,0.082,2),(0.538,0.468,2),(0.538,0.422,3),(0.55,0.406,4),(0.555,0.568,4),(0.56,0.167,2),(0.563,0.213,3),(0.563,0.344,3),(0.569,0.383,3),(0.574,0.476,3),(0.576,0.491,4),(0.579,0.437,3),(0.584,0.499,3),(0.589,0.252,2),(0.594,0.167,4),
(0.599,0.692,3),(0.601,0.329,3),(0.608,0.283,3),(0.61,0.221,3),(0.612,0.259,3),(0.615,0.128,3),(0.62,0.468,4),(0.625,0.429,3),(0.63,0.491,3),(0.632,0.568,3),(0.635,0.159,3),(0.635,0.09,4),(0.641,0.553,3),(0.643,0.53,3),(0.646,0.607,3),(0.646,0.486,3),(0.651,0.406,3),(0.653,0.36,3),(0.656,0.314,3),(0.661,0.283,3),(0.661,0.329,4),(0.666,0.53,4),(0.669,0.097,4),(0.673,0.19,2),
(0.677,0.851,3),(0.68,0.468,4),(0.682,0.522,3),(0.687,0.635,3),(0.687,0.097,2),(0.69,0.151,3),(0.692,0.244,4),(0.694,0.205,4),(0.694,0.684,3),(0.702,0.576,3),(0.702,0.406,3),(0.704,0.329,3),(0.713,0.422,4),(0.716,0.36,3),(0.721,0.344,3),(0.718,0.259,2),
(0.726,0.622,4),(0.726,0.0,3),(0.731,0.162,2),(0.733,0.375,3),(0.744,0.429,2),(0.744,0.553,4),(0.759,0.491,3),(0.759,0.545,2),(0.774,0.715,2),(0.774,0.622,3),(0.78,0.607,3),(0.785,0.445,3),(0.793,0.0,3),(0.8,0.318,3),(0.79,0.63,4),(0.795,0.568,4),(0.818,0.908,3),(0.831,0.687,4),(0.831,0.638,2),(0.826,0.777,3),(0.836,0.757,3),(0.875,0.599,3),(0.569,0.298,3),(0.589,0.36,3),
(0.62,0.4,3),(0.65,0.45,3),(0.67,0.38,3),(0.6,0.37,3),(0.58,0.32,3),(0.63,0.21,3),(0.66,0.25,3),(0.7,0.49,3),(0.72,0.52,3),(0.57,0.25,3)]
rep_schip_fit = [(0.422,0.28),(0.49,0.313),(0.54,0.34),(0.62,0.39),(0.7,0.43),(0.75,0.495),(0.815,0.605),(0.875,0.738)]

rep_stim_pts = [
(0.179,0.021,2),(0.193,0.0,4),(0.2,0.0,3),(0.203,0.056,2),(0.213,0.123,2),(0.222,0.183,4),(0.219,0.012,2),(0.227,0.033,3),(0.23,0.0,2),(0.24,0.108,2),(0.247,0.111,4),(0.247,0.0,3),(0.251,0.064,3),(0.261,0.181,2),(0.263,0.176,2),
(0.265,0.002,4),(0.268,0.064,3),(0.273,0.126,3),(0.278,0.111,3),(0.282,0.114,3),(0.288,0.157,2),(0.288,0.102,2),(0.288,0.012,4),(0.29,0.022,2),(0.295,0.1,3),(0.309,0.173,2),(0.314,0.085,3),(0.307,0.002,3),(0.314,0.0,3),(0.319,0.17,3),(0.316,0.116,2),(0.316,0.049,3),(0.323,0.0,2),(0.333,0.0,2),(0.328,0.09,2),
(0.336,0.248,3),(0.34,0.209,3),(0.338,0.038,3),(0.343,0.064,3),(0.35,0.054,3),(0.357,0.137,3),(0.36,0.23,2),(0.36,0.287,2),(0.36,0.002,3),(0.365,0.049,2),(0.367,0.023,3),(0.369,0.393,3),(0.37,0.121,3),(0.374,0.064,3),(0.377,0.108,4),(0.38,0.002,3),
(0.384,0.307,2),(0.385,0.116,3),(0.391,0.188,3),(0.39,0.162,3),(0.392,0.038,4),(0.394,0.002,3),(0.396,0.242,2),(0.397,0.152,3),(0.399,0.064,3),(0.404,0.111,2),(0.404,0.0,2),(0.408,0.199,3),(0.411,0.216,2),(0.413,0.162,4),(0.415,0.0,3),(0.418,0.256,3),
(0.422,0.199,4),(0.428,0.206,3),(0.428,0.126,2),(0.43,0.209,3),(0.432,0.188,3),(0.435,0.054,3),(0.438,0.0,2),(0.442,0.106,2),(0.445,0.137,3),(0.446,0.504,3),(0.452,0.488,3),(0.444,0.043,4),(0.459,0.193,2),(0.462,0.093,3),(0.46,0.002,3),(0.465,0.364,3),
(0.472,0.159,3),(0.474,0.323,3),(0.476,0.033,3),(0.479,0.056,3),(0.481,0.221,3),(0.481,0.209,3),(0.486,0.049,3),(0.493,0.064,3),(0.496,0.074,3),(0.503,0.038,3),(0.507,0.023,2),(0.51,0.126,2),(0.513,0.1,3),(0.517,0.035,2),(0.52,0.0,3),(0.527,0.0,3),
(0.539,0.038,2),(0.537,0.09,3),(0.551,0.106,2),(0.556,0.144,2),(0.562,0.152,3),(0.573,0.064,3),(0.585,0.038,2),(0.601,0.142,4),(0.603,0.459,3),(0.605,0.0,3),
(0.21,0.0,3),(0.25,0.02,3),(0.28,0.04,3),(0.3,0.03,3),(0.32,0.02,3),(0.33,0.05,3),(0.35,0.03,3),(0.37,0.045,3),(0.38,0.03,3),(0.4,0.02,3),(0.41,0.05,3),(0.42,0.07,3),(0.43,0.03,3),(0.45,0.06,3),(0.47,0.04,3),(0.49,0.02,3),(0.5,0.05,3),(0.3,0.07,2),(0.34,0.09,3),(0.36,0.11,3),(0.39,0.1,3),(0.41,0.13,3)]
rep_stim_fit = [(0.18,0.052),(0.25,0.063),(0.32,0.065),(0.35,0.057),(0.39,0.07),(0.425,0.083),(0.5,0.076),(0.607,0.064)]

# panel titles
dem_titles = ["ACA", "Carbon tax", "Dodd Frank", "End DADT", "SCHIP", "Stimulus"]
rep_titles = ["ACA", "Carbon tax", "Dodd Frank", "End DADT", "SCHIP", "Stimulus"]

# tick label sets
t_0_1 = [0.0, 0.2, 0.4, 0.6, 0.8, 1.0]
t_2_1 = [0.2, 0.4, 0.6, 0.8, 1.0]
t_0_07 = [0.0, 0.1, 0.2, 0.3, 0.4, 0.5, 0.6, 0.7]
t_0_08 = [0.0, 0.2, 0.4, 0.6, 0.8]
t_0_06 = [0.0, 0.1, 0.2, 0.3, 0.4, 0.5, 0.6]

# data ranges (min, max over both axes) of each panel
dem_lims = [(0.0, 1.0), (0.055, 1.0), (0.0, 1.0), (0.172, 1.0), (0.0, 1.0), (0.0, 1.0)]
rep_lims = [(0.0, 0.676), (0.0, 0.693), (0.0, 0.911), (0.0, 0.845), (0.0, 0.915), (0.0, 0.606)]
dem_ticks = [t_0_1, t_2_1, t_0_1, t_2_1, t_0_1, t_0_1]
rep_ticks = [t_0_07, t_0_07, t_0_08, t_0_08, t_0_08, t_0_06]

dem_pts = [dem_aca_pts, dem_carbon_pts, dem_dodd_pts, dem_dadt_pts, dem_schip_pts, dem_stim_pts]
dem_fit = [dem_aca_fit, dem_carbon_fit, dem_dodd_fit, dem_dadt_fit, dem_schip_fit, dem_stim_fit]
rep_pts = [rep_aca_pts, rep_carbon_pts, rep_dodd_pts, rep_dadt_pts, rep_schip_pts, rep_stim_pts]
rep_fit = [rep_aca_fit, rep_carbon_fit, rep_dodd_fit, rep_dadt_fit, rep_schip_fit, rep_stim_fit]

# ---------------- styling ----------------
W, H = 320, 211
FONT = "Liberation Sans"
PURPLE = "#984EA3"
AREA = {1: 26, 2: 60, 3: 110, 4: 195}


def panel(title, pts, fit, lim, ticks):
    lo, hi = lim
    r = hi - lo
    dom = [lo - 0.04 * r, hi + 0.04 * r]
    sc = alt.Scale(domain=dom, nice=False, zero=False)
    xax = alt.Axis(values=ticks, format=".1f", domain=False, grid=False, tickSize=7,
                   tickColor="black", tickWidth=1, labelFont=FONT, labelFontSize=16,
                   labelColor="black", labelPadding=6, title=None, labelFlush=False,
                   labelOverlap=False)
    yax = alt.Axis(values=ticks, format=".1f", domain=False, grid=False, tickSize=7,
                   tickColor="black", tickWidth=1, labelFont=FONT, labelFontSize=16,
                   labelColor="black", labelPadding=4, title=None, labelFlush=False,
                   labelOverlap=False)

    def X(f):
        return alt.X(f, type="quantitative", scale=sc, axis=xax)

    def Y(f):
        return alt.Y(f, type="quantitative", scale=sc, axis=yax)

    dfp = pd.DataFrame(pts, columns=["x", "y", "s"])
    dfp["area"] = dfp["s"].map(AREA)
    dff = pd.DataFrame(fit, columns=["x", "y"])
    dfd = pd.DataFrame({"x": dom, "y": dom})
    dfa = pd.DataFrame({"a": [ticks[0]], "b": [ticks[-1]]})
    dft = pd.DataFrame({"t": [title]})

    diag = alt.Chart(dfd).mark_line(clip=True, color="black", strokeWidth=1,
                                    strokeDash=[4, 4]).encode(x=X("x"), y=Y("y"))
    points = alt.Chart(dfp).mark_point(shape="circle", filled=False, color="black",
                                       strokeWidth=1, opacity=1).encode(
        x=X("x"), y=Y("y"), size=alt.Size("area:Q", scale=None, legend=None))
    line = alt.Chart(dff).mark_line(color=PURPLE, strokeWidth=3.5).encode(x=X("x"), y=Y("y"))
    xline = alt.Chart(dfa).mark_rule(color="black", strokeWidth=1).encode(
        x=X("a"), x2="b:Q", y=alt.value(H))
    yline = alt.Chart(dfa).mark_rule(color="black", strokeWidth=1).encode(
        y=Y("a"), y2="b:Q", x=alt.value(0))
    ttl = alt.Chart(dft).mark_text(font=FONT, fontSize=13, fontWeight="bold", color="black",
                                   align="center", baseline="alphabetic").encode(
        text="t:N", x=alt.value(W / 2), y=alt.value(-10))
    return alt.layer(diag, points, line, xline, yline, ttl).properties(width=W, height=H)


def row(titles, pts, fits, lims, ticks, idx):
    return alt.hconcat(*[panel(titles[i], pts[i], fits[i], lims[i], ticks[i]) for i in idx],
                       spacing=55, bounds="flush")


def heading(text, h, tx, ty, ux1, ux2, uy):
    d = pd.DataFrame({"t": [text]})
    txt = alt.Chart(d).mark_text(font=FONT, fontSize=38, align="center",
                                 baseline="alphabetic", color="black").encode(
        text="t:N", x=alt.value(tx), y=alt.value(ty))
    ul = alt.Chart(d).mark_rule(color="black", strokeWidth=1.5).encode(
        x=alt.value(ux1), x2=alt.value(ux2), y=alt.value(uy))
    return alt.layer(txt, ul).properties(width=1070, height=h)


def spacer(h):
    d = pd.DataFrame({"t": [""]})
    return alt.Chart(d).mark_text().encode(text="t:N").properties(width=1070, height=h)


chart = alt.vconcat(
    heading("Democratic Members", 51, 516, 30, 335, 697, 33),
    row(dem_titles, dem_pts, dem_fit, dem_lims, dem_ticks, [0, 1, 2]),
    spacer(19),
    row(dem_titles, dem_pts, dem_fit, dem_lims, dem_ticks, [3, 4, 5]),
    heading("Republican Members", 75, 516, 51, 337, 696, 60),
    row(rep_titles, rep_pts, rep_fit, rep_lims, rep_ticks, [0, 1, 2]),
    spacer(22),
    row(rep_titles, rep_pts, rep_fit, rep_lims, rep_ticks, [3, 4, 5]),
    spacing=0,
).properties(padding={"left": 6, "top": 0, "right": 0, "bottom": 0}).configure_view(stroke=None)

chart.save("out.html", embed_options={"renderer": "svg", "actions": False})
